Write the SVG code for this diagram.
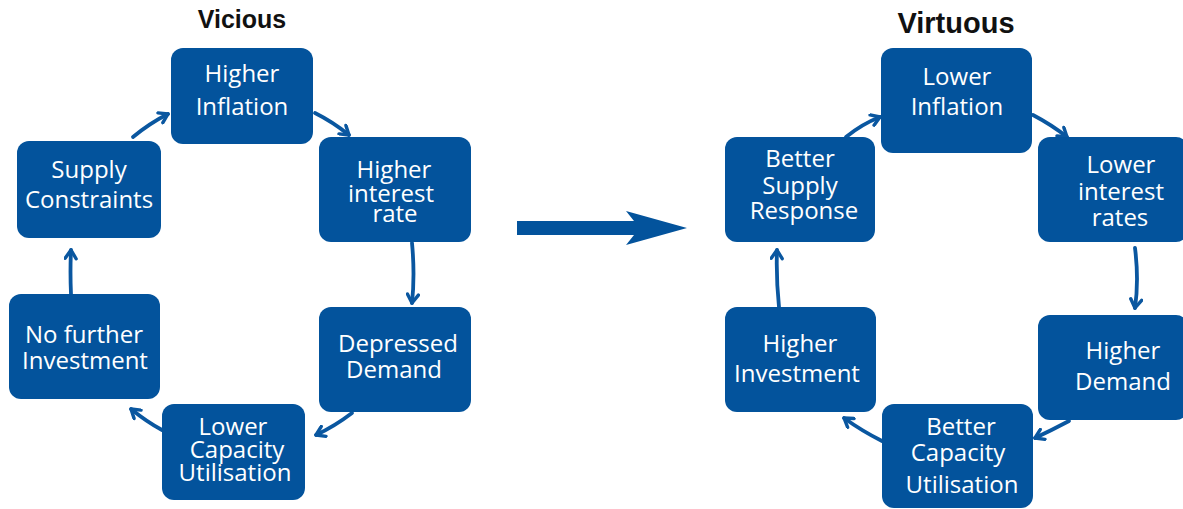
<svg xmlns="http://www.w3.org/2000/svg" width="1183" height="509" viewBox="0 0 1183 509">
<style>
.box{fill:#03539C}
.t{font-family:"Open Sans","Liberation Sans",sans-serif;font-size:24px;fill:#fff;text-anchor:middle}
.title{font-family:"Liberation Sans",Arial,sans-serif;font-weight:bold;fill:#111;text-anchor:middle}
.c{fill:none;stroke:#0A57A0;stroke-width:3.8;stroke-linecap:round}
</style>
<defs>
<marker id="ah" viewBox="0 0 14 14" refX="11" refY="7" markerWidth="14" markerHeight="14" markerUnits="userSpaceOnUse" orient="auto">
<path d="M2.5,1.5 L11,7 L2.5,12.5" fill="none" stroke="#0A57A0" stroke-width="3.4" stroke-linecap="round" stroke-linejoin="round"/>
</marker>
</defs>
<rect width="1183" height="509" fill="#fff"/>
<text class="title" x="242" y="28" font-size="25">Vicious</text>
<text class="title" x="956" y="33" font-size="29">Virtuous</text>

<g id="connectors">
<path class="c" d="M133,137 Q150,123 168,114" marker-end="url(#ah)"/>
<path class="c" d="M315,113 Q333,122 349,135" marker-end="url(#ah)"/>
<path class="c" d="M412,243 Q415,275 412,303" marker-end="url(#ah)"/>
<path class="c" d="M352,413 Q335,426 316,435" marker-end="url(#ah)"/>
<path class="c" d="M162,430 Q147,422 131,409" marker-end="url(#ah)"/>
<path class="c" d="M71,294 Q70,272 71,250" marker-end="url(#ah)"/>
<path class="c" d="M846,137 Q862,124 880,117" marker-end="url(#ah)"/>
<path class="c" d="M1033,115 Q1052,125 1067,137" marker-end="url(#ah)"/>
<path class="c" d="M1135,248 Q1139,280 1135,308" marker-end="url(#ah)"/>
<path class="c" d="M1069,421 Q1052,430 1035,438" marker-end="url(#ah)"/>
<path class="c" d="M882,441 Q862,431 844,418" marker-end="url(#ah)"/>
<path class="c" d="M779,307 Q776,278 777,250" marker-end="url(#ah)"/>
<polygon points="517,221 634,221 626,211 687,228 626,245 634,235 517,235" fill="#03539C"/>
</g>

<g id="n-higher-inflation">
<rect class="box" x="171" y="48" width="142" height="96" rx="12"/>
<text class="t" x="242" y="82">Higher</text>
<text class="t" x="242" y="115">Inflation</text>
</g>
<g id="n-supply-constraints">
<rect class="box" x="17" y="141" width="144" height="97" rx="12"/>
<text class="t" x="89" y="178">Supply</text>
<text class="t" x="89" y="208" font-size="23">Constraints</text>
</g>
<g id="n-higher-interest">
<rect class="box" x="319" y="137" width="152" height="105" rx="12"/>
<text class="t" x="394" y="178">Higher</text>
<text class="t" x="391" y="202">interest</text>
<text class="t" x="395" y="222">rate</text>
</g>
<g id="n-depressed-demand">
<rect class="box" x="319" y="307" width="152" height="105" rx="12"/>
<text class="t" x="398" y="352">Depressed</text>
<text class="t" x="394" y="378">Demand</text>
</g>
<g id="n-lower-capacity">
<rect class="box" x="162" y="404" width="143" height="96" rx="12"/>
<text class="t" x="233" y="435">Lower</text>
<text class="t" x="237" y="458">Capacity</text>
<text class="t" x="235" y="481">Utilisation</text>
</g>
<g id="n-no-further">
<rect class="box" x="9" y="294" width="151" height="105" rx="12"/>
<text class="t" x="84" y="343">No further</text>
<text class="t" x="85" y="369">Investment</text>
</g>

<g id="n-lower-inflation">
<rect class="box" x="881" y="48" width="151" height="105" rx="12"/>
<text class="t" x="957" y="85">Lower</text>
<text class="t" x="957" y="115">Inflation</text>
</g>
<g id="n-better-supply">
<rect class="box" x="725" y="137" width="150" height="105" rx="12"/>
<text class="t" x="800" y="167">Better</text>
<text class="t" x="800" y="194">Supply</text>
<text class="t" x="804" y="219">Response</text>
</g>
<g id="n-lower-interest">
<rect class="box" x="1038" y="137" width="150" height="105" rx="12"/>
<text class="t" x="1121" y="173">Lower</text>
<text class="t" x="1121" y="200">interest</text>
<text class="t" x="1120" y="226">rates</text>
</g>
<g id="n-higher-demand">
<rect class="box" x="1038" y="315" width="150" height="105" rx="12"/>
<text class="t" x="1123" y="359">Higher</text>
<text class="t" x="1123" y="390">Demand</text>
</g>
<g id="n-better-capacity">
<rect class="box" x="882" y="404" width="151" height="104" rx="12"/>
<text class="t" x="961" y="435">Better</text>
<text class="t" x="958" y="461">Capacity</text>
<text class="t" x="962" y="493">Utilisation</text>
</g>
<g id="n-higher-investment">
<rect class="box" x="725" y="307" width="151" height="105" rx="12"/>
<text class="t" x="800" y="352">Higher</text>
<text class="t" x="797" y="382">Investment</text>
</g>
</svg>
